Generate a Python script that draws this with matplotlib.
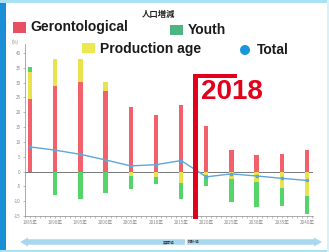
import matplotlib
matplotlib.use("Agg")
import matplotlib.pyplot as plt
import matplotlib.patches as mpatches
import numpy as np

plt.rcParams['font.family'] = ['Noto Sans CJK JP', 'DejaVu Sans']

# ---- data ----
years = [1985, 1990, 1995, 2000, 2005, 2010, 2015, 2020, 2025, 2030, 2035, 2040]
gerontological = [24.4, 28.9, 30.2, 27.3, 21.9, 18.9, 22.4, 15.2, 7.1, 5.6, 6.0, 7.4]
production_age = [9.1, 8.9, 7.8, 3.0, -1.4, -2.0, -3.9, -1.2, -2.6, -3.4, -5.5, -8.2]
youth = [1.8, -7.8, -9.2, -7.3, -4.5, -2.3, -5.4, -3.7, -7.6, -8.4, -6.2, -6.0]
total = [8.3, 7.2, 5.8, 3.9, 1.9, 2.3, 3.7, -1.8, -0.8, -1.5, -2.3, -3.0]
year_labels = [str(y) + '年' for y in years]
yticks = list(range(-15, 45, 5))

RED = '#f2616b'
YELLOW = '#e8e34c'
GREEN = '#55d46a'
LINE = '#5ea6da'
GRAY = '#8a8a8a'

W, H = 329, 252
fig = plt.figure(figsize=(W / 100, H / 100), dpi=100)
fig.patch.set_facecolor('white')

def box(x0, y0, x1, y1):
    # pixel box -> figure fraction rect
    return [x0 / W, 1 - y1 / H, (x1 - x0) / W, (y1 - y0) / H]

ax = fig.add_axes(box(25, 44, 313, 216))
ax.set_facecolor('none')

g = np.array(gerontological)
p = np.array(production_age)
yo = np.array(youth)
x = np.array(years)
bw = 0.85

ax.bar(x, g, width=bw, color=RED, zorder=2)
# production age stacks on red when positive, hangs from zero when negative
p_base = np.where(p > 0, g, 0)
ax.bar(x, p, bottom=p_base, width=bw, color=YELLOW, zorder=2)
y_base = np.where(yo > 0, g + np.maximum(p, 0), np.minimum(p, 0))
ax.bar(x, yo, bottom=y_base, width=bw, color=GREEN, zorder=2)

ax.axhline(0, color='#777777', lw=0.7, zorder=1)
ax.plot(x, total, color=LINE, lw=1.0, marker='o', ms=1.6, zorder=3)

ax.set_xlim(1984, 2041.2)
ax.set_ylim(-15, 43)
ax.set_yticks(yticks)
ax.set_yticklabels([str(t) for t in yticks])
ax.set_xticks(years)
ax.set_xticklabels(year_labels)
ax.set_xticks(range(1984, 2042), minor=True)
ax.tick_params(axis='both', labelsize=3.3, colors=GRAY, length=1.5, width=0.4, pad=1.5)
ax.tick_params(axis='x', which='minor', length=1.2, width=0.4, colors=GRAY)
for s in ['top', 'right']:
    ax.spines[s].set_visible(False)
for s in ['left', 'bottom']:
    ax.spines[s].set_color(GRAY)
    ax.spines[s].set_linewidth(0.5)

# ---- overlay in pixel coordinates for decorations ----
ov = fig.add_axes([0, 0, 1, 1])
ov.set_xlim(0, W)
ov.set_ylim(H, 0)
ov.axis('off')
ov.set_facecolor('none')

# frame
ov.add_patch(mpatches.Rectangle((0, 0), 5.5, H, color='#1b8fd6', lw=0))
ov.add_patch(mpatches.Rectangle((0, 0), W, 2.5, color='#a9e3f3', lw=0))
ov.add_patch(mpatches.Rectangle((0, H - 2.5), W, 2.5, color='#a9e3f3', lw=0))
ov.add_patch(mpatches.Rectangle((W - 2, 0), 2, H, color='#d6f1f8', lw=0))

ov.text(159, 14, '人口増減', fontsize=6, fontweight='bold', ha='center', va='center', color='#222222')
ov.text(15, 42, '(%)', fontsize=3.2, ha='center', va='center', color=GRAY)

# legend
lf = dict(fontsize=10, fontweight='bold', family='Liberation Sans', color='#1a1a1a', va='center')
ov.add_patch(mpatches.Rectangle((13, 21.5), 13, 11, color='#e94f63', lw=0))
ov.text(30, 27.5, 'Gerontological', **lf)
ov.add_patch(mpatches.Rectangle((170, 25), 13, 9.5, color='#4db582', lw=0))
ov.text(188, 30.5, 'Youth', **lf)
ov.add_patch(mpatches.Rectangle((82, 43), 13, 10, color='#ebe94f', lw=0))
ov.text(100, 48.5, 'Production age', **lf)
ov.add_patch(mpatches.Circle((245, 50), 5, color='#1597d8', lw=0))
ov.text(257, 49.5, 'Total', **lf)

# 2018 marker
ov.add_patch(mpatches.Rectangle((193, 74), 4.8, 145, color='#e2001a', lw=0))
ov.add_patch(mpatches.Rectangle((193, 74), 44, 4.3, color='#e2001a', lw=0))
ov.text(231.5, 92, '2018', fontsize=20, fontweight='bold', family='Liberation Sans',
        color='#e2001a', ha='center', va='center')

# arrows under the axis
ac = '#a8d8f0'
ov.add_patch(mpatches.FancyArrow(185, 242, -165, 0, width=5.5, head_width=9,
                                 head_length=8, length_includes_head=True, color=ac, lw=0))
ov.add_patch(mpatches.FancyArrow(187, 242, 135, 0, width=5.5, head_width=9,
                                 head_length=8, length_includes_head=True, color=ac, lw=0))
ov.text(169, 242, '実績値', fontsize=2.8, ha='center', va='center', color='#333333')
ov.text(194, 242, '推計値', fontsize=2.8, ha='center', va='center', color='#333333')

fig.savefig('out.png', dpi=100)
